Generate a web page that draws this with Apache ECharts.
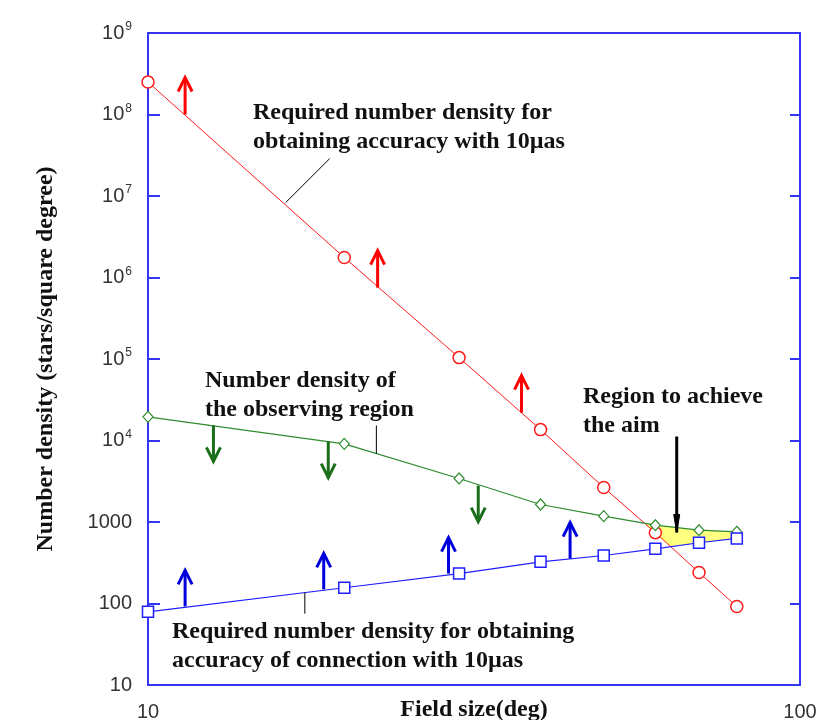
<!DOCTYPE html>
<html>
<head>
<meta charset="utf-8">
<title>Number density vs field size</title>
<script src="https://cdn.jsdelivr.net/npm/echarts@6/dist/echarts.min.js"></script>
<style>
  html, body { margin: 0; padding: 0; background: #fff; }
  #main { width: 820px; height: 720px; }
</style>
</head>
<body>
<div id="main"></div>
<script>
// データ
var fieldSize = [10, 20, 30, 40, 50, 60, 70, 80];
var requiredAccuracy = [2.5e8, 1.76e6, 1.04e5, 1.36e4, 2650, 740, 240, 92];      // 赤
var observingRegion = [19500, 9100, 3420, 1640, 1180, 914, 793, 758];            // 緑
var requiredConnection = [79, 156, 233, 325, 388, 469, 556, 628];                // 青

// 矢印の根元 [x, y]
var redArrows = [[11.4, 1.0e8], [22.5, 7.5e5], [37.4, 2.2e4]];
var greenArrows = [[12.6, 1.53e4], [18.9, 9700], [32.1, 2800]];
var blueArrows = [[11.4, 92], [18.6, 149], [28.9, 233], [44.4, 356]];
var aimArrow = [[64.7, 1.12e4]];

// 引き出し線 [x1, y1, x2, y2]
var leaderLines = [
    [19.0, 2.88e7, 16.26, 8.3e6],
    [22.4, 1.53e4, 22.4, 6900],
    [17.4, 136, 17.4, 75]
];

var LOG = Math.log10;

function zip(xs, ys) {
    return xs.map(function (x, i) { return [x, ys[i]]; });
}

// 二本の折れ線の交点 (対数空間)
function crossing(a, b) {
    for (var i = 0; i < fieldSize.length - 1; i++) {
        var d0 = LOG(a[i]) - LOG(b[i]);
        var d1 = LOG(a[i + 1]) - LOG(b[i + 1]);
        if (d0 * d1 <= 0 && d0 !== d1) {
            var t = d0 / (d0 - d1);
            var lx = LOG(fieldSize[i]) + t * (LOG(fieldSize[i + 1]) - LOG(fieldSize[i]));
            var ly = LOG(a[i]) + t * (LOG(a[i + 1]) - LOG(a[i]));
            return { idx: i, pt: [Math.pow(10, lx), Math.pow(10, ly)] };
        }
    }
    return null;
}

// 黄色の領域: 緑の下・青の上・赤の右
var cg = crossing(requiredAccuracy, observingRegion);
var cb = crossing(requiredAccuracy, requiredConnection);
var aimRegion = [cg.pt];
for (var i = cg.idx + 1; i < fieldSize.length; i++) aimRegion.push([fieldSize[i], observingRegion[i]]);
for (var j = fieldSize.length - 1; j > cb.idx; j--) aimRegion.push([fieldSize[j], requiredConnection[j]]);
aimRegion.push(cb.pt);

var axisBlue = '#3434f4';
var serif = '"Liberation Serif", "Times New Roman", serif';
var sans = '"Liberation Sans", Arial, sans-serif';

// 矢印 (dir: 1 = 上向き, -1 = 下向き)
function arrowSeries(name, data, color, dir, len, width, head, filled) {
    return {
        name: name,
        type: 'custom',
        z: 4,
        data: data,
        renderItem: function (params, api) {
            var p = api.coord([api.value(0), api.value(1)]);
            var tipY = p[1] - dir * len;
            var hy = tipY + dir * head[1];
            var pts = [[p[0] - head[0], hy], [p[0], tipY], [p[0] + head[0], hy]];
            return {
                type: 'group',
                children: [
                    { type: 'line', shape: { x1: p[0], y1: p[1], x2: p[0], y2: tipY },
                      style: { stroke: color, lineWidth: width } },
                    filled
                        ? { type: 'polygon', shape: { points: pts }, style: { fill: color, stroke: color, lineWidth: 1 } }
                        : { type: 'polyline', shape: { points: pts }, style: { stroke: color, lineWidth: width, fill: null } }
                ]
            };
        }
    };
}

function textBlock(left, top, lines) {
    return {
        type: 'text',
        left: left,
        top: top,
        style: {
            text: lines.join('\n'),
            font: 'bold 24px ' + serif,
            lineHeight: 29,
            fill: '#111'
        }
    };
}

var frameAxis = {
    axisLine: { show: true, lineStyle: { color: axisBlue, width: 2 } },
    splitLine: { show: false }
};

var myChart = echarts.init(document.getElementById('main'));

var option = {
    animation: false,
    backgroundColor: '#fff',
    grid: { left: 148, right: 20, top: 33, bottom: 35, containLabel: false, outerBoundsMode: 'none' },
    xAxis: [{
        type: 'log',
        logBase: 10,
        min: 10,
        max: 100,
        name: 'Field size(deg)',
        nameLocation: 'middle',
        nameGap: 13,
        nameMoveOverlap: false,
        nameTextStyle: { fontFamily: serif, fontWeight: 'bold', fontSize: 24, color: '#111', verticalAlign: 'top' },
        axisLine: frameAxis.axisLine,
        splitLine: frameAxis.splitLine,
        axisTick: { show: false },
        axisLabel: { margin: 17, fontFamily: sans, fontSize: 20, color: '#333' }
    }, {
        type: 'log',
        logBase: 10,
        min: 10,
        max: 100,
        position: 'top',
        axisLine: frameAxis.axisLine,
        splitLine: frameAxis.splitLine,
        axisTick: { show: false },
        axisLabel: { show: false }
    }],
    yAxis: [{
        type: 'log',
        logBase: 10,
        min: 10,
        max: 1e9,
        name: 'Number density (stars/square degree)',
        nameLocation: 'middle',
        nameGap: 90,
        nameMoveOverlap: false,
        nameTextStyle: { fontFamily: serif, fontWeight: 'bold', fontSize: 24, color: '#111' },
        axisLine: frameAxis.axisLine,
        splitLine: frameAxis.splitLine,
        axisTick: { show: true, inside: true, length: 12, lineStyle: { color: axisBlue, width: 2 } },
        axisLabel: {
            margin: 16,
            color: '#333',
            fontFamily: sans,
            fontSize: 20,
            formatter: function (v) {
                var e = Math.round(LOG(v));
                if (e <= 3) return String(Math.pow(10, e));
                return '10{sup|' + e + '}';
            },
            rich: {
                sup: { fontSize: 12, verticalAlign: 'top', padding: [0, 0, 12, 1], fontFamily: sans, color: '#333' }
            }
        }
    }, {
        type: 'log',
        logBase: 10,
        min: 10,
        max: 1e9,
        position: 'right',
        axisLine: frameAxis.axisLine,
        splitLine: frameAxis.splitLine,
        axisTick: { show: true, inside: true, length: 10, lineStyle: { color: axisBlue, width: 2 } },
        axisLabel: { show: false }
    }],
    graphic: [
        textBlock(253, 98, ['Required number density for', 'obtaining accuracy with 10\u00b5as']),
        textBlock(205, 366, ['Number density of', 'the observing region']),
        textBlock(583, 382, ['Region to achieve', 'the aim']),
        textBlock(172, 617, ['Required number density for obtaining', 'accuracy of connection with 10\u00b5as'])
    ],
    series: [
        {
            name: 'aim region',
            type: 'custom',
            z: 1,
            data: [0],
            renderItem: function (params, api) {
                return {
                    type: 'polygon',
                    shape: { points: aimRegion.map(function (p) { return api.coord(p); }) },
                    style: { fill: '#ffff80', stroke: null }
                };
            }
        },
        {
            name: 'leaders',
            type: 'custom',
            z: 3,
            data: leaderLines,
            renderItem: function (params, api) {
                var a = api.coord([api.value(0), api.value(1)]);
                var b = api.coord([api.value(2), api.value(3)]);
                return { type: 'line', shape: { x1: a[0], y1: a[1], x2: b[0], y2: b[1] },
                         style: { stroke: '#000', lineWidth: 1 } };
            }
        },
        {
            name: 'Required (10µas)',
            type: 'line',
            z: 2,
            data: zip(fieldSize, requiredAccuracy),
            symbol: 'circle',
            symbolSize: 12,
            lineStyle: { color: '#ff1a1a', width: 1 },
            itemStyle: { color: '#fff', borderColor: '#ff1a1a', borderWidth: 1.5 }
        },
        {
            name: 'Observing region',
            type: 'line',
            z: 2,
            data: zip(fieldSize, observingRegion),
            symbol: 'diamond',
            symbolSize: [10, 11],
            lineStyle: { color: '#2e8b2e', width: 1.2 },
            itemStyle: { color: '#fff', borderColor: '#2e8b2e', borderWidth: 1.2 }
        },
        {
            name: 'Required (connection)',
            type: 'line',
            z: 2,
            data: zip(fieldSize, requiredConnection),
            symbol: 'rect',
            symbolSize: 11,
            lineStyle: { color: '#1f1fff', width: 1.2 },
            itemStyle: { color: '#fff', borderColor: '#1f1fff', borderWidth: 1.5 }
        },
        arrowSeries('red arrows', redArrows, '#ff0000', 1, 37, 3, [7, 14], false),
        arrowSeries('green arrows', greenArrows, '#1a6e1a', -1, 36, 3, [7, 14], false),
        arrowSeries('blue arrows', blueArrows, '#0000dd', 1, 36, 3, [7, 14], false),
        arrowSeries('aim arrow', aimArrow, '#000', -1, 96, 3, [3, 18], true)
    ]
};

myChart.setOption(option);
</script>
</body>
</html>
